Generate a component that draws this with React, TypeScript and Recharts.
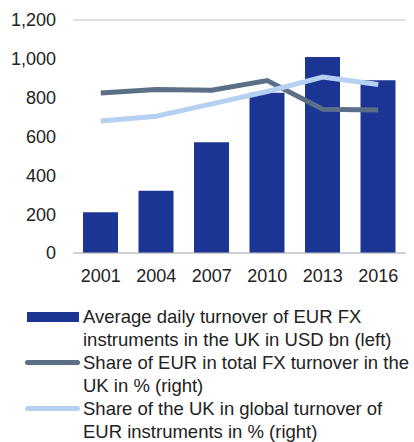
import { ComposedChart, Bar, Line, XAxis, YAxis, CartesianGrid } from 'recharts'

const years = ['2001', '2004', '2007', '2010', '2013', '2016']
const turnoverUsdBn = [210, 320, 570, 825, 1010, 890]
const eurShareUk = [41.2, 42.1, 41.9, 44.4, 37.0, 36.8]
const ukShareGlobal = [34.0, 35.2, 38.4, 41.6, 45.3, 43.4]
const leftTicks = [0, 200, 400, 600, 800, 1000, 1200]

const BAR = '#1B3595'
const DARK = '#5B6F86'
const LIGHT = '#B5D0F0'
const TEXT = '#222222'
const FONT = '"Liberation Sans", Arial, sans-serif'

const data = years.map((year, i) => ({
  year,
  turnover: turnoverUsdBn[i],
  eurShare: eurShareUk[i],
  ukShare: ukShareGlobal[i]
}))

const legendItems = [
  { kind: 'bar', color: BAR, lines: ['Average daily turnover of EUR FX', 'instruments in the UK in USD bn (left)'] },
  { kind: 'line', color: DARK, lines: ['Share of EUR in total FX turnover in the', 'UK in % (right)'] },
  { kind: 'line', color: LIGHT, lines: ['Share of the UK in global turnover of', 'EUR instruments in % (right)'] }
]

export default function App() {
  return (
    <div style={{ position: 'absolute', left: 0, top: 0, width: 414, height: 442, fontFamily: FONT, background: '#fff' }}>
      <ComposedChart width={414} height={290} data={data} margin={{ top: 20, right: 8, left: 0, bottom: 0 }}>
        <CartesianGrid vertical={false} stroke="#c0c0c0" />
        <XAxis
          dataKey="year"
          tickLine={false}
          axisLine={{ stroke: '#c0c0c0' }}
          tick={{ fill: TEXT, fontSize: 18, fontFamily: FONT }}
          tickMargin={10}
          height={37}
        />
        <YAxis
          yAxisId="left"
          width={73}
          domain={[0, 1200]}
          ticks={leftTicks}
          tickFormatter={(v: number) => v.toLocaleString('en-US')}
          tickLine={false}
          axisLine={false}
          tickSize={0}
          tickMargin={17}
          tick={{ fill: TEXT, fontSize: 18, fontFamily: FONT }}
        />
        <YAxis yAxisId="right" orientation="right" hide domain={[0, 60]} />
        <Bar yAxisId="left" dataKey="turnover" fill={BAR} barSize={35} isAnimationActive={false} />
        <Line yAxisId="right" dataKey="eurShare" stroke={DARK} strokeWidth={5} dot={false} isAnimationActive={false} />
        <Line yAxisId="right" dataKey="ukShare" stroke={LIGHT} strokeWidth={5} dot={false} isAnimationActive={false} />
      </ComposedChart>
      <div style={{ position: 'absolute', left: 0, top: 305, width: 414, color: TEXT, fontSize: 18.5, lineHeight: '23px' }}>
        {legendItems.map((item, i) => (
          <div key={i} style={{ position: 'relative', paddingLeft: 83, whiteSpace: 'nowrap' }}>
            {item.kind === 'bar' ? (
              <div style={{ position: 'absolute', left: 27, top: 7, width: 52, height: 10, background: item.color }} />
            ) : (
              <div style={{ position: 'absolute', left: 25, top: 9, width: 55, height: 5, borderRadius: 3, background: item.color }} />
            )}
            {item.lines.map((l, j) => (
              <div key={j}>{l}</div>
            ))}
          </div>
        ))}
      </div>
    </div>
  )
}
